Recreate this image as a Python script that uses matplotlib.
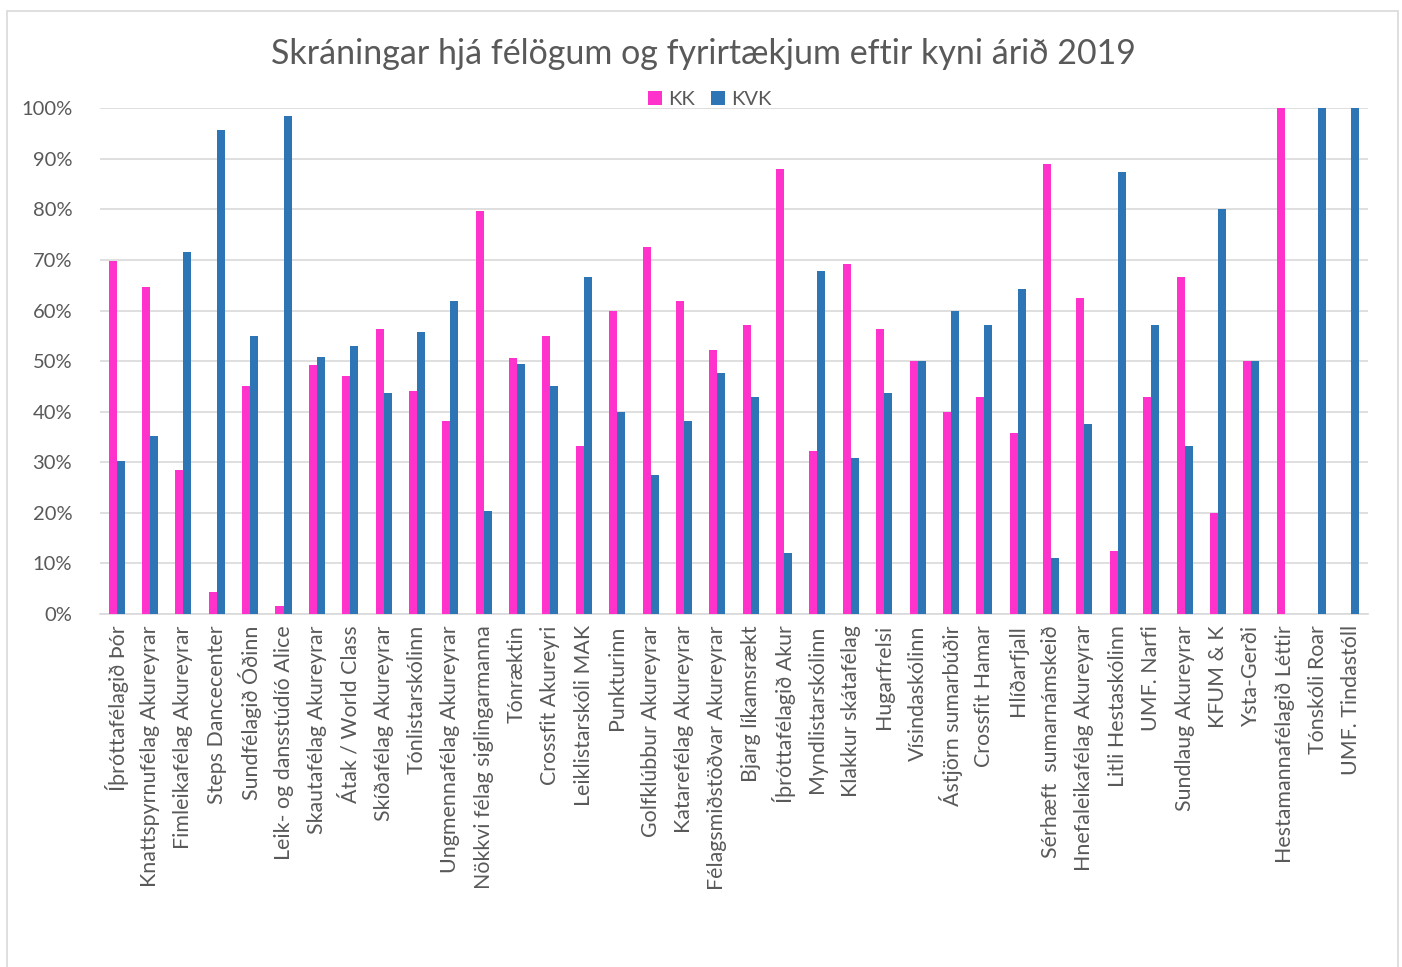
import matplotlib
matplotlib.use('Agg')
import matplotlib.pyplot as plt
import numpy as np
from matplotlib.patches import Rectangle

# Gögn
categories = [
    'Íþróttafélagið Þór', 'Knattspyrnufélag Akureyrar', 'Fimleikafélag Akureyrar',
    'Steps Dancecenter', 'Sundfélagið Óðinn', 'Leik- og dansstúdíó Alice',
    'Skautafélag Akureyrar', 'Átak / World Class', 'Skíðafélag Akureyrar',
    'Tónlistarskólinn', 'Ungmennafélag Akureyrar', 'Nökkvi félag siglingarmanna',
    'Tónræktin', 'Crossfit Akureyri', 'Leiklistarskóli MAK', 'Punkturinn',
    'Golfklúbbur Akureyrar', 'Katarefélag Akureyrar', 'Félagsmiðstöðvar Akureyrar',
    'Bjarg líkamsrækt', 'Íþróttafélagið Akur', 'Myndlistarskólinn',
    'Klakkur skátafélag', 'Hugarfrelsi', 'Vísindaskólinn', 'Ástjörn sumarbúðir',
    'Crossfit Hamar', 'Hlíðarfjall', 'Sérhæft  sumarnámskeið',
    'Hnefaleikafélag Akureyrar', 'Litli Hestaskólinn', 'UMF. Narfi',
    'Sundlaug Akureyrar', 'KFUM & K', 'Ysta-Gerði', 'Hestamannafélagið Léttir',
    'Tónskóli Roar', 'UMF. Tindastóll',
]
kk = [69.8, 64.7, 28.5, 4.3, 45.0, 1.5, 49.2, 47.0, 56.3, 44.2, 38.2, 79.7,
      50.6, 55.0, 33.3, 60.0, 72.5, 61.9, 52.3, 57.1, 88.0, 32.2, 69.2, 56.3,
      50.0, 40.0, 42.9, 35.7, 88.9, 62.5, 12.5, 42.9, 66.7, 20.0, 50.0, 100.0,
      0.0, 0.0]
kvk = [30.2, 35.3, 71.5, 95.7, 55.0, 98.5, 50.8, 53.0, 43.7, 55.8, 61.8, 20.3,
       49.4, 45.0, 66.7, 40.0, 27.5, 38.1, 47.7, 42.9, 12.0, 67.8, 30.8, 43.7,
       50.0, 60.0, 57.1, 64.3, 11.1, 37.5, 87.5, 57.1, 33.3, 80.0, 50.0, 0.0,
       100.0, 100.0]
yticks = [0, 10, 20, 30, 40, 50, 60, 70, 80, 90, 100]

plt.rcParams['font.family'] = ['Lato', 'DejaVu Sans']
txt = '#595959'

fig = plt.figure(figsize=(14.02, 9.67), dpi=100)
# Rammi utan um myndina
fig.patches.append(Rectangle((0.005, -0.01), 0.992, 0.999, transform=fig.transFigure,
                             fill=False, edgecolor='#d9d9d9', linewidth=1.2))
ax = fig.add_axes([0.0713, 0.365, 0.9045, 0.523])

x = np.arange(len(categories))
w = 0.24
ax.bar(x - w / 2, kk, w, color='#ff33cc', label='KK', zorder=3)
ax.bar(x + w / 2, kvk, w, color='#2e75b6', label='KVK', zorder=3)

ax.set_xlim(-0.5, len(categories) - 0.5)
ax.set_ylim(0, 100)
ax.set_yticks(yticks)
ax.set_yticklabels([f'{t}%' for t in yticks], fontsize=14.5, color=txt)
ax.set_xticks(x)
ax.set_xticklabels(categories, rotation=90, fontsize=15.4, color=txt)
ax.tick_params(axis='both', length=0, pad=8)
ax.tick_params(axis='y', pad=20)
ax.grid(axis='y', color='#d9d9d9', linewidth=1.2, zorder=0)
for s in ['top', 'right', 'left']:
    ax.spines[s].set_visible(False)
ax.spines['bottom'].set_color('#d9d9d9')
ax.spines['bottom'].set_linewidth(1.2)

fig.text(0.502, 0.944, 'Skráningar hjá félögum og fyrirtækjum eftir kyni árið 2019',
         ha='center', va='center', fontsize=24.5, color=txt)
ax.legend(loc='lower center', bbox_to_anchor=(0.481, 0.98), ncol=2, frameon=False,
          fontsize=14.5, handlelength=0.7, handleheight=0.7, handletextpad=0.3,
          columnspacing=0.8, labelcolor=txt, borderpad=0)

fig.savefig('out.png', dpi=100)
